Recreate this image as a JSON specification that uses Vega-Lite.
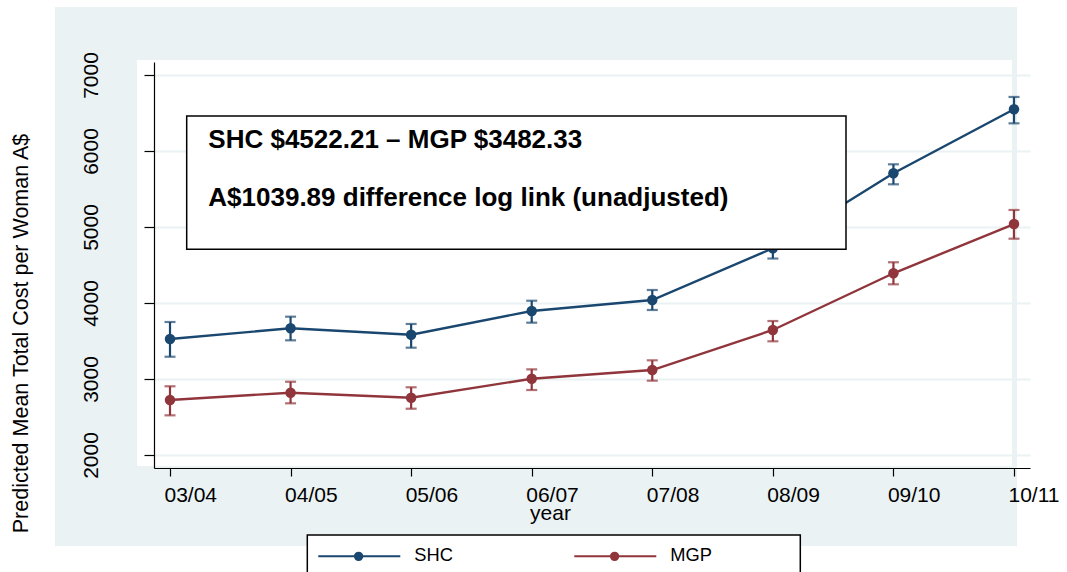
{
  "$schema": "https://vega.github.io/schema/vega-lite/v6.json",
  "width": 876,
  "height": 406,
  "autosize": {"type": "none"},
  "padding": {"left": 154, "top": 62, "right": 37, "bottom": 104},
  "background": "white",
  "config": {"view": {"stroke": null, "fill": "white"}, "font": "Liberation Sans"},
  "datasets": {
    "est": [
      {"i": 0, "year": "03/04", "series": "SHC", "mean": 3526, "lo": 3293, "hi": 3750},
      {"i": 1, "year": "04/05", "series": "SHC", "mean": 3667, "lo": 3509, "hi": 3820},
      {"i": 2, "year": "05/06", "series": "SHC", "mean": 3583, "lo": 3412, "hi": 3724},
      {"i": 3, "year": "06/07", "series": "SHC", "mean": 3895, "lo": 3741, "hi": 4030},
      {"i": 4, "year": "07/08", "series": "SHC", "mean": 4039, "lo": 3908, "hi": 4171},
      {"i": 5, "year": "08/09", "series": "SHC", "mean": 4720, "lo": 4585, "hi": 4860},
      {"i": 6, "year": "09/10", "series": "SHC", "mean": 5707, "lo": 5562, "hi": 5825},
      {"i": 7, "year": "10/11", "series": "SHC", "mean": 6549, "lo": 6364, "hi": 6711},
      {"i": 0, "year": "03/04", "series": "MGP", "mean": 2724, "lo": 2522, "hi": 2904},
      {"i": 1, "year": "04/05", "series": "MGP", "mean": 2820, "lo": 2680, "hi": 2964},
      {"i": 2, "year": "05/06", "series": "MGP", "mean": 2754, "lo": 2609, "hi": 2891},
      {"i": 3, "year": "06/07", "series": "MGP", "mean": 3004, "lo": 2855, "hi": 3127},
      {"i": 4, "year": "07/08", "series": "MGP", "mean": 3118, "lo": 2978, "hi": 3246},
      {"i": 5, "year": "08/09", "series": "MGP", "mean": 3645, "lo": 3496, "hi": 3763},
      {"i": 6, "year": "09/10", "series": "MGP", "mean": 4391, "lo": 4246, "hi": 4536},
      {"i": 7, "year": "10/11", "series": "MGP", "mean": 5039, "lo": 4846, "hi": 5224}
    ],
    "note": [
      {"text": "SHC $4522.21 – MGP $3482.33\nA$1039.89 difference log link (unadjusted)"}
    ]
  },
  "resolve": {"axis": {"y": "independent"}},
  "layer": [
    {
      "layer": [
        {
          "data": {"values": [{}]},
          "mark": {"type": "rect", "color": "#eaf2f3"},
          "encoding": {
            "x": {"datum": -0.9538, "type": "quantitative"},
            "x2": {"datum": 7.0249},
            "y": {"datum": 7197.4, "type": "quantitative"},
            "y2": {"datum": 7894.7}
          }
        },
        {
          "data": {"values": [{}]},
          "mark": {"type": "rect", "color": "#eaf2f3"},
          "encoding": {
            "x": {"datum": -0.9538, "type": "quantitative"},
            "x2": {"datum": 7.0249},
            "y": {"datum": 802.6, "type": "quantitative"},
            "y2": {"datum": 1855.3}
          }
        },
        {
          "data": {"values": [{}]},
          "mark": {"type": "rect", "color": "#eaf2f3"},
          "encoding": {
            "x": {"datum": -0.9538, "type": "quantitative"},
            "x2": {"datum": -0.2737},
            "y": {"datum": 1855.3, "type": "quantitative"},
            "y2": {"datum": 7197.4}
          }
        },
        {
          "data": {"values": [{}]},
          "mark": {"type": "rect", "color": "#eaf2f3"},
          "encoding": {
            "x": {"datum": 6.9834, "type": "quantitative"},
            "x2": {"datum": 7.0249},
            "y": {"datum": 1855.3, "type": "quantitative"},
            "y2": {"datum": 7197.4}
          }
        },
        {
          "data": {"name": "est"},
          "mark": {"type": "rule", "strokeWidth": 2.2},
          "encoding": {
            "x": {"field": "i", "type": "quantitative"},
            "y": {"field": "lo", "type": "quantitative"},
            "y2": {"field": "hi"},
            "color": {"field": "series", "type": "nominal"}
          }
        },
        {
          "data": {"name": "est"},
          "mark": {"type": "tick", "orient": "horizontal", "size": 11, "thickness": 2.2},
          "encoding": {
            "x": {"field": "i", "type": "quantitative"},
            "y": {"field": "lo", "type": "quantitative"},
            "color": {"field": "series", "type": "nominal"}
          }
        },
        {
          "data": {"name": "est"},
          "mark": {"type": "tick", "orient": "horizontal", "size": 11, "thickness": 2.2},
          "encoding": {
            "x": {"field": "i", "type": "quantitative"},
            "y": {"field": "hi", "type": "quantitative"},
            "color": {"field": "series", "type": "nominal"}
          }
        },
        {
          "data": {"name": "est"},
          "mark": {"type": "line", "strokeWidth": 2.4},
          "encoding": {
            "x": {
              "field": "i",
              "type": "quantitative",
              "scale": {"domain": [-0.1327, 7.1327], "nice": false, "zero": false},
              "axis": {
                "title": "year",
                "values": [0, 1, 2, 3, 4, 5, 6, 7],
                "labelExpr": "['03/04','04/05','05/06','06/07','07/08','08/09','09/10','10/11'][datum.value]",
                "grid": false,
                "zindex": 1,
                "domainColor": "black",
                "domainWidth": 1.2,
                "tickColor": "black",
                "tickSize": 8,
                "tickWidth": 1.2,
                "labelAngle": 0,
                "labelAlign": "left",
                "labelOffset": -6,
                "labelBaseline": "top",
                "labelPadding": 8,
                "labelFontSize": 21,
                "labelColor": "black",
                "labelFlush": false,
                "labelOverlap": false,
                "labelBound": false,
                "titleFontSize": 21,
                "titleFontWeight": "normal",
                "titleColor": "black",
                "titleAlign": "center",
                "titleBaseline": "alphabetic",
                "titleX": 396,
                "titleY": 51
              }
            },
            "y": {
              "field": "mean",
              "type": "quantitative",
              "scale": {"domain": [1829, 7171], "nice": false, "zero": false},
              "axis": {
                "title": "Predicted Mean Total Cost per Woman A$",
                "values": [2000, 3000, 4000, 5000, 6000, 7000],
                "format": "d",
                "grid": false,
                "zindex": 1,
                "domainColor": "black",
                "domainWidth": 1.2,
                "tickColor": "black",
                "tickSize": 10,
                "tickWidth": 1.2,
                "labelAngle": -90,
                "labelAlign": "center",
                "labelBaseline": "alphabetic",
                "labelPadding": 47,
                "labelFontSize": 21,
                "labelColor": "black",
                "labelFlush": false,
                "labelOverlap": false,
                "titleFontSize": 21.5,
                "titleFontWeight": "normal",
                "titleColor": "black",
                "titleAngle": -90,
                "titleAlign": "center",
                "titleBaseline": "alphabetic",
                "titleX": -127,
                "titleY": 271
              }
            },
            "color": {
              "field": "series",
              "type": "nominal",
              "scale": {"domain": ["SHC", "MGP"], "range": ["#1a476f", "#90353b"]},
              "legend": {
                "title": null,
                "orient": "none",
                "legendX": 153.3,
                "legendY": 473,
                "direction": "horizontal",
                "fillColor": "white",
                "strokeColor": "black",
                "padding": 10,
                "symbolType": "M-1,0L7.2,0M2.66,0A0.37,0.37,0,1,0,3.4,0A0.37,0.37,0,1,0,2.66,0Z",
                "symbolSize": 400,
                "symbolStrokeWidth": 2,
                "labelFontSize": 18.3,
                "labelFont": "Liberation Sans",
                "labelColor": "black",
                "labelOffset": 75,
                "labelLimit": 300,
                "columnPadding": 117,
                "labelExpr": "datum.label == 'MGP' ? 'MGP\u2800\u2800\u2800\u2800\u2800\u2800' : datum.label",
                "zindex": 1,
                "encode": {
                  "symbols": {"update": {"fill": {"scale": "color", "field": "value"}, "stroke": {"scale": "color", "field": "value"}}},
                  "legend": {"update": {"strokeWidth": {"value": 1.5}}}
                }
              }
            }
          }
        },
        {
          "data": {"name": "est"},
          "mark": {"type": "point", "filled": true, "size": 110, "opacity": 1},
          "encoding": {
            "x": {"field": "i", "type": "quantitative"},
            "y": {"field": "mean", "type": "quantitative"},
            "color": {"field": "series", "type": "nominal"}
          }
        }
      ]
    },
    {
      "layer": [
        {
          "data": {"values": [{}]},
          "mark": {"type": "rect", "fill": "white", "stroke": "black", "strokeWidth": 1.5},
          "encoding": {
            "x": {"datum": 0.1385, "type": "quantitative"},
            "x2": {"datum": 5.6066},
            "y": {
              "datum": 6460.5,
              "type": "quantitative",
              "axis": {
                "orient": "right",
                "values": [2000, 3000, 4000, 5000, 6000, 7000],
                "grid": true,
                "gridColor": "#eaf2f3",
                "gridWidth": 2,
                "labels": false,
                "ticks": false,
                "domain": false,
                "title": null,
                "zindex": 0
              }
            },
            "y2": {"datum": 4706.6}
          }
        },
        {
          "data": {"name": "note"},
          "mark": {
            "type": "text",
            "align": "left",
            "baseline": "alphabetic",
            "fontSize": 26,
            "fontWeight": "bold",
            "font": "Liberation Sans",
            "color": "black",
            "lineBreak": "\n",
            "lineHeight": 57.7
          },
          "encoding": {
            "x": {"datum": 0.3177, "type": "quantitative"},
            "y": {"datum": 6035.5, "type": "quantitative"},
            "text": {"field": "text"}
          }
        }
      ]
    }
  ]
}
